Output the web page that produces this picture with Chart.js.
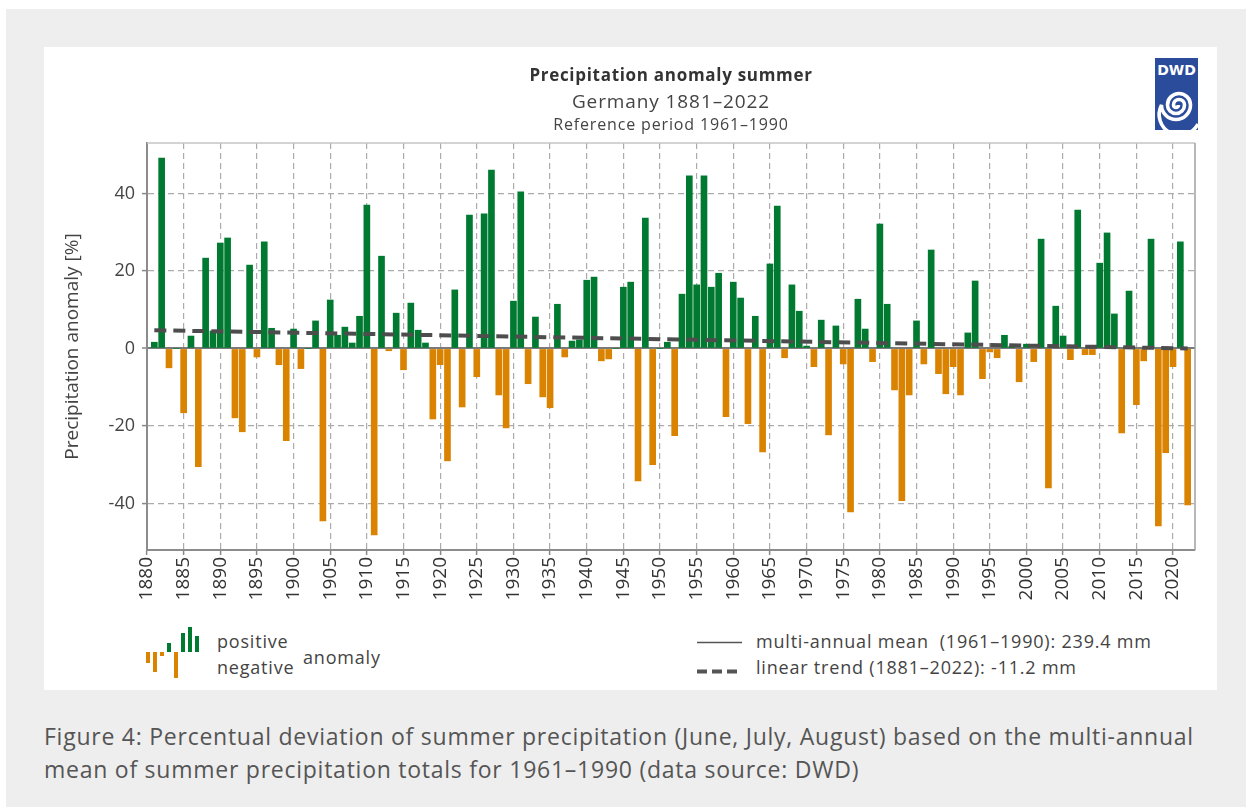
<!DOCTYPE html>
<html>
<head>
<meta charset="utf-8">
<script src="https://cdn.jsdelivr.net/npm/chart.js@4.4.0/dist/chart.umd.min.js"></script>
<style>
body{margin:0;background:#fff;font-family:'Open Sans',sans-serif;color:#444;}
#page{position:absolute;left:6px;top:9px;width:1240px;height:798px;background:#eeeeee;overflow:hidden;}
#panel{position:absolute;left:38px;top:38px;width:1173px;height:643px;background:#fff;}
#wrap{position:absolute;left:0;top:0;width:1173px;height:575px;}
.t{position:absolute;left:103px;width:1048px;text-align:center;line-height:22px;white-space:nowrap;}
.lg{position:absolute;font-size:18px;line-height:24px;white-space:nowrap;color:#444;letter-spacing:0.8px;}
#caption{position:absolute;left:38px;top:711px;font-size:23px;line-height:33px;color:#555;letter-spacing:0.75px;white-space:nowrap;}
#logo{position:absolute;left:1111px;top:11px;}
</style>
</head>
<body>
<div id="page">
  <div id="panel">
    <div id="wrap"><canvas id="mycanvas" width="1173" height="575"></canvas></div>
    <div class="t" style="top:17px;font-size:17px;font-weight:bold;color:#333;letter-spacing:0.7px;">Precipitation anomaly summer</div>
    <div class="t" style="top:43px;font-size:19px;letter-spacing:0.9px;">Germany 1881–2022</div>
    <div class="t" style="top:66px;font-size:16px;letter-spacing:0.85px;">Reference period 1961–1990</div>

    <svg id="logo" width="43" height="72" viewBox="0 0 43 72">
      <rect x="0" y="0" width="43" height="72" fill="#2b4c9b"/>
      <text x="21.5" y="17" text-anchor="middle" font-family="DejaVu Sans" font-weight="bold" font-size="14" fill="#fff">DWD</text>
      <path d="M23.5 47 A2.5 2.5 0 0 1 18.5 47 A5.5 5.5 0 0 1 29.5 47 A8.5 8.5 0 0 1 12.5 47 A11.5 11.5 0 0 1 35.5 47 A14.5 14.5 0 0 1 6.5 47 A20 20 0 0 0 43 66" fill="none" stroke="#fff" stroke-width="3.6"/>
    </svg>

    <svg style="position:absolute;left:102px;top:580px;" width="56" height="52">
      <rect x="0" y="25" width="4" height="11" fill="#da8300"/>
      <rect x="7" y="25" width="4" height="20" fill="#da8300"/>
      <rect x="14" y="25" width="4" height="4" fill="#da8300"/>
      <rect x="21" y="16" width="4" height="9" fill="#007a31"/>
      <rect x="28" y="25" width="4" height="26" fill="#da8300"/>
      <rect x="35" y="6" width="4" height="19" fill="#007a31"/>
      <rect x="42" y="0" width="4" height="25" fill="#007a31"/>
      <rect x="49" y="9" width="4" height="16" fill="#007a31"/>
    </svg>
    <div class="lg" style="left:173px;top:582px;">positive</div>
    <div class="lg" style="left:173px;top:608px;">negative</div>
    <div class="lg" style="left:259px;top:598px;">anomaly</div>

    <svg style="position:absolute;left:653px;top:590px;" width="46" height="40">
      <line x1="0" y1="5.5" x2="45" y2="5.5" stroke="#555" stroke-width="1.5"/>
      <line x1="0" y1="34.5" x2="45" y2="34.5" stroke="#555" stroke-width="4" stroke-dasharray="10 5"/>
    </svg>
    <div class="lg" style="left:712px;top:582px;">multi-annual mean&nbsp; (1961–1990): 239.4 mm</div>
    <div class="lg" style="left:712px;top:608px;">linear trend (1881–2022): -11.2 mm</div>
  </div>
  <div id="caption">Figure 4: Percentual deviation of summer precipitation (June, July, August) based on the multi-annual<br>mean of summer precipitation totals for 1961–1990 (data source: DWD)</div>
</div>

<script>
// summer precipitation anomaly in % of 1961-1990 mean, one value per year from 1881
var firstYear = 1881;
var anomaly = [
  1.6, 49.1, -5.0, 0.0, -16.6, 3.2, -30.5, 23.3, 4.5, 27.2,       // 1881-1890
  28.5, -17.9, -21.5, 21.5, -2.2, 27.5, 5.2, -4.2, -23.8, 5.0,    // 1891-1900
  -5.2, 0.0, 7.1, -44.5, 12.5, 3.4, 5.5, 1.4, 8.3, 37.0,          // 1901-1910
  -48.1, 23.8, -0.6, 9.1, -5.5, 11.7, 4.7, 1.4, -18.2, -4.2,      // 1911-1920
  -29.0, 15.1, -15.1, 34.4, -7.3, 34.7, 46.0, -12.0, -20.5, 12.2, // 1921-1930
  40.4, -9.1, 8.1, -12.5, -15.3, 11.4, -2.2, 1.9, 2.2, 17.6,      // 1931-1940
  18.4, -3.2, -2.7, 0.0, 15.8, 17.1, -34.2, 33.6, -30.0, 0.0,     // 1941-1950
  1.6, -22.5, 14.0, 44.5, 16.4, 44.5, 15.8, 19.4, -17.6, 17.1,    // 1951-1960
  13.0, -19.4, 8.3, -26.7, 21.8, 36.7, -2.4, 16.4, 9.6, 0.6,      // 1961-1970
  -4.7, 7.3, -22.3, 5.8, -4.0, -42.2, 12.7, 5.0, -3.4, 32.1,      // 1971-1980
  11.4, -10.7, -39.3, -12.0, 7.1, -4.0, 25.4, -6.5, -11.7, -4.7,  // 1981-1990
  -12.0, 4.0, 17.4, -7.8, -0.9, -2.4, 3.4, 0.6, -8.6, 1.1,        // 1991-2000
  -3.4, 28.2, -36.0, 10.9, 3.2, -2.9, 35.7, -1.6, -1.6, 22.0,     // 2001-2010
  29.8, 8.9, -21.8, 14.8, -14.5, -3.2, 28.2, -45.8, -26.9, -4.7,  // 2011-2020
  27.5, -40.4                                                     // 2021-2022
];
// linear trend end points
var trendYears = [1881, 2022];
var trendValues = [4.7, 0.0];

var xTicks = [1880, 1885, 1890, 1895, 1900, 1905, 1910, 1915, 1920, 1925, 1930, 1935, 1940, 1945,
  1950, 1955, 1960, 1965, 1970, 1975, 1980, 1985, 1990, 1995, 2000, 2005, 2010, 2015, 2020];
var yTicks = [-40, -20, 0, 20, 40];

var green = '#007a31';
var orange = '#da8300';

var bars = [];
for (var i in anomaly) {
  bars.push({x: firstYear + Number(i), y: anomaly[i]});
}
var trend = [];
for (var j in trendYears) {
  trend.push({x: trendYears[j], y: trendValues[j]});
}

Chart.defaults.font.family = "'Open Sans', sans-serif";
Chart.defaults.color = '#444';

// light frame on top and right of the plot
var frame = {
  id: 'frame',
  afterDraw: function(chart) {
    var a = chart.chartArea, c = chart.ctx;
    c.save();
    c.lineWidth = 1.5;
    c.strokeStyle = '#c6c6c6';
    c.beginPath(); c.moveTo(a.left, a.top); c.lineTo(a.right, a.top); c.stroke();
    c.strokeStyle = '#a0a0a0';
    c.beginPath(); c.moveTo(a.right, a.top); c.lineTo(a.right, a.bottom); c.stroke();
    c.restore();
  }
};

var ctx = document.getElementById('mycanvas');
var LineGraph = new Chart(ctx, {
  type: 'bar',
  data: {
    datasets: [
      {
        type: 'line',
        label: 'linear trend',
        data: trend,
        borderColor: '#4d4d4d',
        borderWidth: 4,
        borderDash: [12, 7],
        pointRadius: 0,
        fill: false,
        order: 0
      },
      {
        type: 'bar',
        label: 'anomaly',
        data: bars,
        backgroundColor: function(c) { return c.raw && c.raw.y < 0 ? orange : green; },
        barThickness: 6,
        order: 1
      }
    ]
  },
  options: {
    responsive: false,
    animation: false,
    devicePixelRatio: 1,
    layout: {padding: {top: 96, right: 22, left: 0, bottom: 0}},
    plugins: {legend: {display: false}, tooltip: {enabled: false}},
    scales: {
      x: {
        type: 'linear',
        offset: false,
        min: 1880,
        max: 2023,
        afterBuildTicks: function(s) { s.ticks = xTicks.map(function(v) { return {value: v}; }); },
        afterFit: function(s) { s.height = 72; },
        ticks: {
          autoSkip: false, maxRotation: 90, minRotation: 90, padding: 2,
          color: '#333', font: {size: 19},
          callback: function(v) { return String(v); }
        },
        grid: {offset: false, color: '#ababab', lineWidth: 1.2, tickLength: 5, tickColor: '#888', tickWidth: 1.5},
        border: {display: true, color: '#8c8c8c', width: 2, dash: [6, 4]}
      },
      y: {
        min: -52,
        max: 53,
        afterBuildTicks: function(s) { s.ticks = yTicks.map(function(v) { return {value: v}; }); },
        afterFit: function(s) { s.width = 103; },
        ticks: {padding: 7, color: '#444', font: {size: 18}},
        grid: {
          color: function(c) { return c.tick && c.tick.value === 0 ? '#7a7a7a' : '#ababab'; },
          lineWidth: function(c) { return c.tick && c.tick.value === 0 ? 2 : 1.2; },
          tickLength: 5, tickColor: '#888', tickWidth: 1.5
        },
        border: {
          display: true, color: '#8c8c8c', width: 2,
          dash: function(c) { return c.tick && c.tick.value === 0 ? [] : [6, 4]; }
        },
        title: {display: true, text: 'Precipitation anomaly [%]', color: '#444', font: {size: 19}, padding: {top: 17, bottom: 0}}
      }
    }
  },
  plugins: [frame]
});
</script>
</body>
</html>
